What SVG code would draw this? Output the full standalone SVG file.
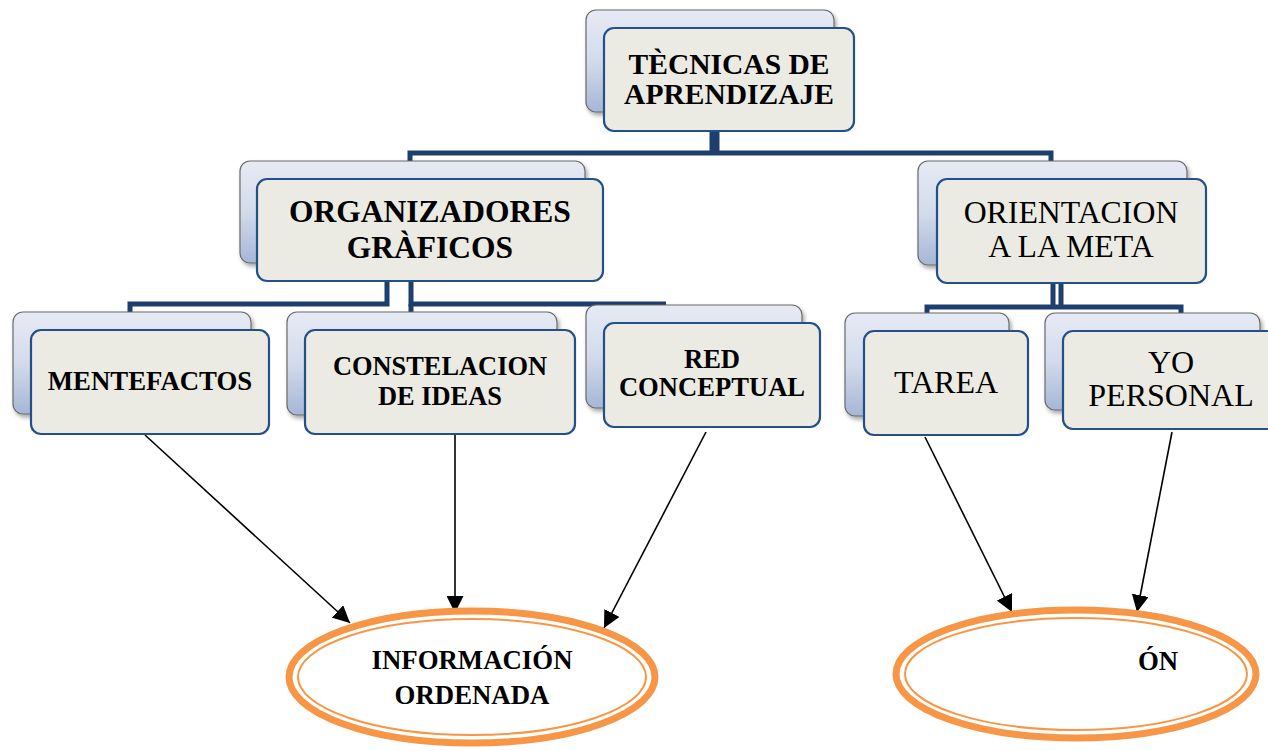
<svg xmlns="http://www.w3.org/2000/svg" width="1268" height="751" viewBox="0 0 1268 751">
<defs>
<linearGradient id="bg" x1="0" y1="0" x2="0" y2="1">
<stop offset="0" stop-color="#e6eaf4"/>
<stop offset="0.5" stop-color="#d3dbeb"/>
<stop offset="1" stop-color="#a6b6d6"/>
</linearGradient>
<filter id="sh" x="-10%" y="-10%" width="130%" height="140%">
<feDropShadow dx="2" dy="3" stdDeviation="2" flood-color="#000" flood-opacity="0.35"/>
</filter>
<marker id="ah2" viewBox="0 0 10 10" refX="10" refY="5" markerWidth="17" markerHeight="17" markerUnits="userSpaceOnUse" orient="auto">
<path d="M0,0 L10,5 L0,10 z" fill="#000"/>
</marker>
</defs>
<style>
.back{fill:url(#bg);stroke:#6b6b6b;stroke-width:1.2;filter:url(#sh)}
.front{fill:#ecebe3;stroke:#24508a;stroke-width:2.2}
.conn{fill:none;stroke:#1c3f6e;stroke-width:5;stroke-linejoin:miter}
.arr{fill:none;stroke:#000;stroke-width:1.6;marker-end:url(#ah2)}
.tb{font-weight:bold;fill:#000;text-anchor:middle}
.tr{fill:#000;text-anchor:middle}
.ell1{fill:#fff;stroke:#f79646;stroke-width:7}
.ell2{fill:none;stroke:#f79646;stroke-width:2}
</style>
<rect width="1268" height="751" fill="#fff"/>
<g id="connectors">
<path class="conn" d="M712,131 V155 M717,131 V155"/>
<path class="conn" d="M410,164 V153 H1051 V164"/>
<path class="conn" d="M387,281 V304 H130 V314"/>
<path class="conn" d="M411,281 V304 H666"/>
<path class="conn" d="M411,304 V313"/>
<path class="conn" d="M1053,283 V307 M1061,283 V307"/>
<path class="conn" d="M927,316 V307 H1181 V316"/>
<line class="arr" x1="145" y1="435" x2="350" y2="623"/>
<line class="arr" x1="455" y1="432" x2="455" y2="613"/>
<line class="arr" x1="706" y1="432" x2="604" y2="628"/>
<line class="arr" x1="925" y1="437" x2="1012" y2="612"/>
<line class="arr" x1="1172" y1="432" x2="1137" y2="612"/>
</g>
<g font-family="'Liberation Serif', 'Times New Roman', serif">
<g id="n-tecnicas">
<rect class="back" x="586" y="10" width="248" height="102" rx="10"/>
<rect class="front" x="604" y="28" width="250" height="103" rx="10"/>
<text class="tb" font-size="29.5"><tspan x="729" y="74">TÈCNICAS DE</tspan><tspan x="729" y="104">APRENDIZAJE</tspan></text>
</g>
<g id="n-organizadores">
<rect class="back" x="240" y="161" width="345" height="102" rx="10"/>
<rect class="front" x="257" y="179" width="346" height="102" rx="10"/>
<text class="tb" font-size="31.5"><tspan x="430" y="222">ORGANIZADORES</tspan><tspan x="430" y="258">GRÀFICOS</tspan></text>
</g>
<g id="n-orientacion">
<rect class="back" x="918" y="161" width="269" height="104" rx="10"/>
<rect class="front" x="937" y="179" width="269" height="104" rx="10"/>
<text class="tr" font-size="31.8"><tspan x="1071" y="223">ORIENTACION</tspan><tspan x="1071" y="257">A LA META</tspan></text>
</g>
<g id="n-mentefactos">
<rect class="back" x="13" y="312" width="238" height="102" rx="10"/>
<rect class="front" x="31" y="330" width="238" height="104" rx="10"/>
<text class="tb" x="150" y="390" font-size="26.8">MENTEFACTOS</text>
</g>
<g id="n-constelacion">
<rect class="back" x="287" y="312" width="270" height="103" rx="10"/>
<rect class="front" x="305" y="330" width="270" height="104" rx="10"/>
<text class="tb" font-size="26.4"><tspan x="440" y="375">CONSTELACION</tspan><tspan x="440" y="405">DE IDEAS</tspan></text>
</g>
<g id="n-red">
<rect class="back" x="586" y="305" width="216" height="103" rx="10"/>
<rect class="front" x="604" y="323" width="216" height="104" rx="10"/>
<text class="tb" font-size="26.6"><tspan x="712" y="368">RED</tspan><tspan x="712" y="396">CONCEPTUAL</tspan></text>
</g>
<g id="n-tarea">
<rect class="back" x="845" y="313" width="164" height="103" rx="10"/>
<rect class="front" x="864" y="331" width="164" height="104" rx="10"/>
<text class="tr" x="946" y="393" font-size="32">TAREA</text>
</g>
<g id="n-yo">
<rect class="back" x="1045" y="313" width="215" height="97" rx="10"/>
<rect class="front" x="1063" y="331" width="215" height="98" rx="10"/>
<text class="tr" font-size="32"><tspan x="1171" y="373">YO</tspan><tspan x="1171" y="406">PERSONAL</tspan></text>
</g>
<g id="n-informacion">
<ellipse class="ell1" cx="472" cy="677" rx="183" ry="66"/>
<ellipse class="ell2" cx="472" cy="677" rx="174" ry="58"/>
<text class="tb" font-size="26.8"><tspan x="472" y="669">INFORMACIÓN</tspan><tspan x="472" y="704">ORDENADA</tspan></text>
</g>
<g id="n-motivacion">
<ellipse class="ell1" cx="1076" cy="674" rx="180" ry="64"/>
<ellipse class="ell2" cx="1076" cy="674" rx="171" ry="56"/>
<text class="tb" x="1158" y="670" font-size="26.8">ÓN</text>
</g>
</g>
</svg>
